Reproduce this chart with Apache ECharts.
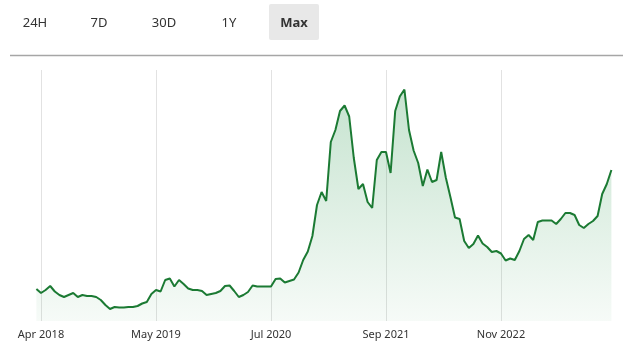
<!DOCTYPE html>
<html>
<head>
<meta charset="UTF-8" />
<script src="https://cdn.jsdelivr.net/npm/echarts@6/dist/echarts.min.js"></script>
<style>
  html, body, #main {
    margin: 0;
    padding: 0;
    width: 623px;
    height: 352px;
    background: #fff;
  }
</style>
</head>
<body>
<div id="main"></div>
<script>
  // range buttons shown above the chart
  const ranges = ['24H', '7D', '30D', '1Y', 'Max'];
  const activeRange = 'Max';

  // price history, one point per step (arbitrary units)
  const prices = [
    32, 28, 31, 35, 29.5, 26, 24, 26, 28, 24,
    26, 25, 25, 24, 21, 16, 12, 14, 13.5, 13.5,
    14, 14, 15, 17.5, 19, 27, 31, 29.5, 41, 42.5,
    34.5, 41, 37, 32.5, 31, 31, 30, 26, 27, 28,
    30, 35, 35.5, 30, 24, 26, 29, 35.5, 34.5, 34.5,
    34.5, 34.5, 42, 42.5, 38.5, 40, 41.5, 48.5, 61, 69.5,
    85, 116, 129, 120, 179, 191, 210, 215.5, 204.5, 163,
    132, 137, 119, 113, 161, 169, 169, 148, 210, 224.5,
    231.5, 191, 170.5, 158, 135, 151.5, 139, 141, 169, 143.5,
    124, 103.5, 102, 80, 73, 77, 85.5, 77.5, 74, 69,
    70, 67.5, 60.5, 62.5, 61, 70, 82, 86, 81, 99,
    100.5, 100.5, 100.5, 97, 102, 108, 108, 106, 96, 93,
    97, 100, 105, 127, 137, 151
  ];
  const categories = prices.map((_, i) => i);

  // labelled ticks on the time axis
  const tickIdx = [1, 26, 51, 76, 101];
  const tickLabels = ['Apr 2018', 'May 2019', 'Jul 2020', 'Sep 2021', 'Nov 2022'];

  const chart = echarts.init(document.getElementById('main'), null, { renderer: 'canvas' });

  const btnX = [35, 99, 164, 229, 294];
  const buttons = [];
  ranges.forEach((r, i) => {
    if (r === activeRange) {
      buttons.push({
        type: 'rect',
        shape: { x: btnX[i] - 25, y: 4, width: 50, height: 36, r: 2 },
        style: { fill: '#e8e8e8' }
      });
    }
    buttons.push({
      type: 'text',
      x: btnX[i],
      y: 23,
      style: {
        text: r,
        fill: '#333',
        font: (r === activeRange ? 'bold ' : '') + '13px "Noto Sans", sans-serif',
        align: 'center',
        verticalAlign: 'middle'
      }
    });
  });
  buttons.push({
    type: 'line',
    shape: { x1: 10, y1: 55.5, x2: 623, y2: 55.5 },
    style: { stroke: '#a6a6a6', lineWidth: 1.5 }
  });

  const isTick = (idx) => tickIdx.includes(idx);

  const option = {
    animation: false,
    backgroundColor: '#fff',
    graphic: buttons,
    grid: { left: 36.4, right: 11.6, top: 70, bottom: 31 },
    xAxis: {
      type: 'category',
      data: categories,
      boundaryGap: false,
      axisLine: { show: false },
      axisTick: { show: false },
      axisLabel: {
        interval: (idx) => isTick(idx),
        formatter: (val, idx) => tickLabels[tickIdx.indexOf(Number(val))] || '',
        color: '#333',
        fontSize: 11,
        fontFamily: 'Noto Sans',
        margin: 8
      },
      splitLine: {
        show: true,
        interval: (idx) => isTick(idx),
        lineStyle: { color: '#e2e2e2', width: 1 }
      }
    },
    yAxis: {
      type: 'value',
      min: 0,
      max: 251,
      show: false,
      splitLine: { show: false }
    },
    series: [
      {
        type: 'line',
        data: prices,
        showSymbol: false,
        lineStyle: { color: '#1b7a33', width: 2 },
        areaStyle: {
          color: new echarts.graphic.LinearGradient(0, 0, 0, 1, [
            { offset: 0, color: 'rgba(40, 150, 75, 0.38)' },
            { offset: 1, color: 'rgba(40, 150, 75, 0.06)' }
          ])
        }
      }
    ]
  };

  chart.setOption(option);
</script>
</body>
</html>
